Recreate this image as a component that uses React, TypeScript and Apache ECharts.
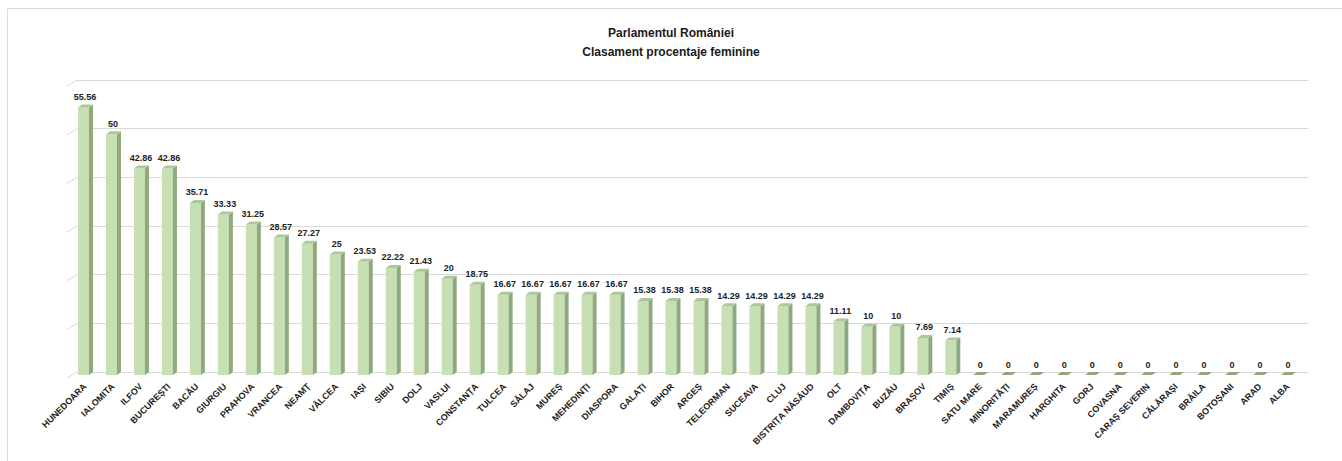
import React, { useEffect, useRef } from "react";
import * as echarts from "echarts";

const categories = [
  "HUNEDOARA", "IALOMITA", "ILFOV", "BUCUREȘTI", "BACĂU", "GIURGIU", "PRAHOVA", "VRANCEA",
  "NEAMȚ", "VÂLCEA", "IAȘI", "SIBIU", "DOLJ", "VASLUI", "CONSTANȚA", "TULCEA", "SĂLAJ",
  "MUREȘ", "MEHEDINȚI", "DIASPORA", "GALAȚI", "BIHOR", "ARGEȘ", "TELEORMAN", "SUCEAVA",
  "CLUJ", "BISTRIȚA NĂSĂUD", "OLT", "DAMBOVIȚA", "BUZĂU", "BRAȘOV", "TIMIȘ", "SATU MARE",
  "MINORITĂȚI", "MARAMUREȘ", "HARGHITA", "GORJ", "COVASNA", "CARAȘ SEVERIN", "CĂLĂRAȘI",
  "BRĂILA", "BOTOȘANI", "ARAD", "ALBA",
];

const values = [
  55.56, 50, 42.86, 42.86, 35.71, 33.33, 31.25, 28.57, 27.27, 25, 23.53, 22.22, 21.43, 20,
  18.75, 16.67, 16.67, 16.67, 16.67, 16.67, 15.38, 15.38, 15.38, 14.29, 14.29, 14.29, 14.29,
  11.11, 10, 10, 7.69, 7.14, 0, 0, 0, 0, 0, 0, 0, 0, 0, 0, 0, 0,
];

const yTicks = [0, 10, 20, 30, 40, 50, 60];

const FONT = "Liberation Sans";

export default function App() {
  const ref = useRef<HTMLDivElement>(null);

  useEffect(() => {
    if (!ref.current) return;
    const chart = echarts.init(ref.current, null, { renderer: "svg" });

    const front = "#c6e0b4";
    const side = "#8ea97b";
    const top = "#aac898";

    const option = {
      animation: false,
      backgroundColor: "#ffffff",
      title: {
        text: "Parlamentul României\nClasament procentaje feminine",
        left: "center",
        top: 18,
        padding: [5, 0, 5, 12],
        textStyle: {
          fontFamily: FONT,
          fontSize: 12,
          fontWeight: "bold",
          color: "#1a1a1a",
          lineHeight: 19,
        },
      },
      graphic: [
        {
          type: "rect",
          shape: { x: 7.5, y: 8.5, width: 1400, height: 600 },
          style: { fill: "none", stroke: "#d9d9d9", lineWidth: 1 },
          silent: true,
        },
      ],
      grid: [
        { left: 77, right: 34, top: 80, bottom: 89 },
        { left: 71, right: 40, top: 86, bottom: 86 },
      ],
      xAxis: [
        { gridIndex: 0, type: "category", data: categories, show: false },
        {
          gridIndex: 1,
          type: "category",
          data: categories,
          axisLine: { show: false },
          axisTick: { show: false },
          axisLabel: {
            rotate: 45,
            interval: 0,
            margin: 10,
            fontFamily: FONT,
            fontSize: 9,
            fontWeight: "bold",
            color: "#222",
          },
        },
      ],
      yAxis: [
        {
          gridIndex: 0,
          type: "value",
          min: 0,
          max: 60,
          interval: 10,
          axisLabel: { show: false },
          axisLine: { show: false },
          axisTick: { show: false },
          splitLine: { show: true, lineStyle: { color: "#d9d9d9", width: 1 } },
        },
        {
          gridIndex: 1,
          type: "value",
          min: 0,
          max: 60,
          interval: 10,
          show: false,
          splitLine: { show: false },
        },
      ],
      series: [
        {
          type: "custom",
          xAxisIndex: 0,
          yAxisIndex: 0,
          silent: true,
          data: yTicks.map((t) => [0, t]),
          encode: { x: 0, y: 1 },
          renderItem: (params: any, api: any) => {
            const p = api.coord([0, api.value(1)]);
            const cs = params.coordSys;
            return {
              type: "line",
              shape: { x1: cs.x - 10, y1: p[1] + 6, x2: cs.x, y2: p[1] },
              style: { stroke: "#d9d9d9", lineWidth: 1 },
            };
          },
        },
        {
          type: "custom",
          xAxisIndex: 1,
          yAxisIndex: 1,
          data: values.map((v, i) => [i, v]),
          encode: { x: 0, y: 1 },
          renderItem: (params: any, api: any) => {
            const i = api.value(0);
            const v = api.value(1);
            const [cx, ty] = api.coord([i, v]);
            const by = api.coord([i, 0])[1];
            const L = cx - 7;
            const W = 11;
            const R = L + W;
            const dx = 4;
            const dy = 3;
            const children: any[] = [];
            if (v === 0) {
              children.push({
                type: "polygon",
                shape: { points: [[L, by], [R, by], [R + dx, by - dy], [L + dx, by - dy]] },
                style: { fill: side },
              });
            } else {
              children.push({
                type: "rect",
                shape: { x: L, y: ty, width: W, height: by - ty },
                style: { fill: front },
              });
              children.push({
                type: "polygon",
                shape: { points: [[R, ty], [R + dx, ty - dy], [R + dx, by - dy], [R, by]] },
                style: { fill: side },
              });
              children.push({
                type: "polygon",
                shape: { points: [[L, ty], [R, ty], [R + dx, ty - dy], [L + dx, ty - dy]] },
                style: { fill: top },
              });
            }
            children.push({
              type: "text",
              style: {
                text: String(v),
                x: cx,
                y: ty - dy - 3,
                align: "center",
                verticalAlign: "bottom",
                fontFamily: FONT,
                fontSize: 9,
                fontWeight: "bold",
                fill: "#222",
              },
            });
            return { type: "group", children };
          },
        },
      ],
    };

    chart.setOption(option as any);
    return () => chart.dispose();
  }, []);

  return (
    <div
      ref={ref}
      style={{ position: "absolute", left: 0, top: 0, width: 1342, height: 461 }}
    />
  );
}
